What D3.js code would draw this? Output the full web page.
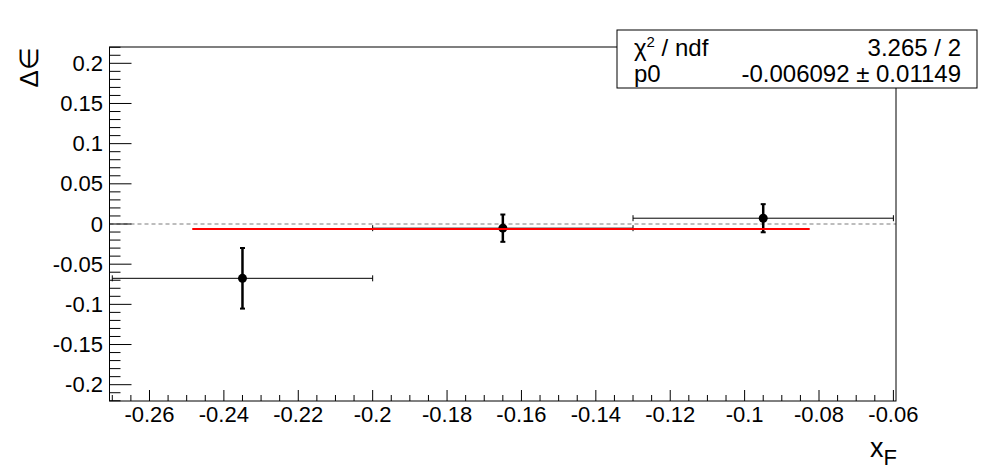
<!DOCTYPE html>
<html>
<head>
<meta charset="utf-8">
<script src="https://cdn.jsdelivr.net/npm/d3@7"></script>
<style>
  body { margin: 0; background: #fff; }
  svg text { font-family: "Liberation Sans", Arial, Helvetica, sans-serif; fill: #000; }
</style>
</head>
<body>
<div id="chart"></div>
<script>
// data
var xF      = [-0.235, -0.165, -0.095];   // bin centres
var xFErr   = [0.035, 0.035, 0.035];      // half bin widths
var dEps    = [-0.0676, -0.0052, 0.0072]; // delta epsilon
var dEpsErr = [0.0377, 0.0170, 0.0175];

// constant fit result
var fitP0 = -0.006092;
var fitRange = [-0.2485, -0.0825];
var statNames  = ["χ2 / ndf", "p0"];
var statValues = ["3.265 / 2", "-0.006092 ± 0.01149"];

var xTicks = [-0.26, -0.24, -0.22, -0.2, -0.18, -0.16, -0.14, -0.12, -0.1, -0.08, -0.06];
var yTicks = [-0.2, -0.15, -0.1, -0.05, 0, 0.05, 0.1, 0.15, 0.2];

var W = 996, H = 472;
var frame = { left: 109.5, right: 896, top: 47, bottom: 401 };

var svg = d3.select("#chart").append("svg")
    .attr("width", W)
    .attr("height", H);

// scales
var x = d3.scaleLinear().domain([-0.27075, -0.0593]).range([frame.left, frame.right]);
var y = d3.scaleLinear().domain([-0.2203, 0.2203]).range([frame.bottom, frame.top]);

// dashed zero line
svg.append("line")
    .attr("x1", frame.left).attr("x2", frame.right)
    .attr("y1", y(0)).attr("y2", y(0))
    .attr("stroke", "#bdbdbd")
    .attr("stroke-width", 2)
    .attr("stroke-dasharray", "4,3");

// frame
svg.append("rect")
    .attr("x", frame.left).attr("y", frame.top)
    .attr("width", frame.right - frame.left)
    .attr("height", frame.bottom - frame.top)
    .attr("fill", "none")
    .attr("stroke", "#000")
    .attr("stroke-width", 1);

// x axis ticks (inside, pointing up)
var xMinor = d3.range(-0.27, -0.0599, 0.005);
svg.append("g").selectAll("line")
    .data(xMinor)
    .enter().append("line")
    .attr("x1", function(d) { return x(d); })
    .attr("x2", function(d) { return x(d); })
    .attr("y1", frame.bottom)
    .attr("y2", function(d) {
        var major = Math.abs(Math.round(d / 0.02) * 0.02 - d) < 1e-6;
        return frame.bottom - (major ? 11 : 6);
    })
    .attr("stroke", "#000");

svg.append("g").selectAll("text")
    .data(xTicks)
    .enter().append("text")
    .attr("x", function(d) { return x(d); })
    .attr("y", 422)
    .attr("text-anchor", "middle")
    .attr("font-size", 22)
    .text(function(d) { return String(+d.toFixed(2)); });

// y axis ticks (inside, pointing right)
var yMinor = d3.range(-22, 23).map(function(i) { return i / 100; });
svg.append("g").selectAll("line")
    .data(yMinor)
    .enter().append("line")
    .attr("x1", frame.left)
    .attr("x2", function(d) {
        var major = Math.abs(Math.round(d / 0.05) * 0.05 - d) < 1e-6;
        return frame.left + (major ? 22 : 11);
    })
    .attr("y1", function(d) { return y(d); })
    .attr("y2", function(d) { return y(d); })
    .attr("stroke", "#000");

svg.append("g").selectAll("text")
    .data(yTicks)
    .enter().append("text")
    .attr("x", 103)
    .attr("y", function(d) { return y(d) + 7.5; })
    .attr("text-anchor", "end")
    .attr("font-size", 22)
    .text(function(d) { return String(+d.toFixed(2)); });

// axis titles
svg.append("text")
    .attr("transform", "translate(38,47) rotate(-90)")
    .attr("text-anchor", "end")
    .attr("font-size", 26)
    .text("Δ∈");

var xt = svg.append("text")
    .attr("x", 897)
    .attr("y", 457)
    .attr("text-anchor", "end")
    .attr("font-size", 27);
xt.append("tspan").text("x");
xt.append("tspan").attr("font-size", 22).attr("dy", 8).text("F");

// points with error bars
var pts = d3.range(xF.length).map(function(i) {
    return { x: xF[i], ex: xFErr[i], y: dEps[i], ey: dEpsErr[i] };
});

var g = svg.append("g");
pts.forEach(function(p) {
    var cx = x(p.x), cy = y(p.y);
    // horizontal bar
    g.append("line")
        .attr("x1", x(p.x - p.ex)).attr("x2", x(p.x + p.ex))
        .attr("y1", cy).attr("y2", cy)
        .attr("stroke", "#000").attr("stroke-width", 1);
    [p.x - p.ex, p.x + p.ex].forEach(function(e) {
        g.append("line")
            .attr("x1", x(e)).attr("x2", x(e))
            .attr("y1", cy - 3).attr("y2", cy + 3)
            .attr("stroke", "#000").attr("stroke-width", 1);
    });
    // vertical bar
    g.append("line")
        .attr("x1", cx).attr("x2", cx)
        .attr("y1", y(p.y - p.ey)).attr("y2", y(p.y + p.ey))
        .attr("stroke", "#000").attr("stroke-width", 2.5);
    [p.y - p.ey, p.y + p.ey].forEach(function(e) {
        g.append("line")
            .attr("x1", cx - 2.5).attr("x2", cx + 2.5)
            .attr("y1", y(e)).attr("y2", y(e))
            .attr("stroke", "#000").attr("stroke-width", 2);
    });
    g.append("circle")
        .attr("cx", cx).attr("cy", cy)
        .attr("r", 4.5)
        .attr("fill", "#000");
});

// fit line, painted after the graph
svg.append("line")
    .attr("x1", x(fitRange[0])).attr("x2", x(fitRange[1]))
    .attr("y1", y(fitP0)).attr("y2", y(fitP0))
    .attr("stroke", "#ff0000")
    .attr("stroke-width", 2);

// stats box
var box = { x: 617, y: 30, w: 360, h: 58 };
svg.append("rect")
    .attr("x", box.x).attr("y", box.y)
    .attr("width", box.w).attr("height", box.h)
    .attr("fill", "#fff")
    .attr("stroke", "#000")
    .attr("stroke-width", 1);

var lineY = [56, 82];
var n0 = svg.append("text").attr("x", 634).attr("y", lineY[0]).attr("font-size", 24);
n0.append("tspan").text("χ");
n0.append("tspan").attr("font-size", 15).attr("dy", -9).text("2");
n0.append("tspan").attr("dy", 9).text(" / ndf");
svg.append("text").attr("x", 634).attr("y", lineY[1]).attr("font-size", 24).text(statNames[1]);

svg.append("g").selectAll("text")
    .data(statValues)
    .enter().append("text")
    .attr("x", 961)
    .attr("y", function(d, i) { return lineY[i]; })
    .attr("text-anchor", "end")
    .attr("font-size", 24)
    .text(function(d) { return d; });
</script>
</body>
</html>
